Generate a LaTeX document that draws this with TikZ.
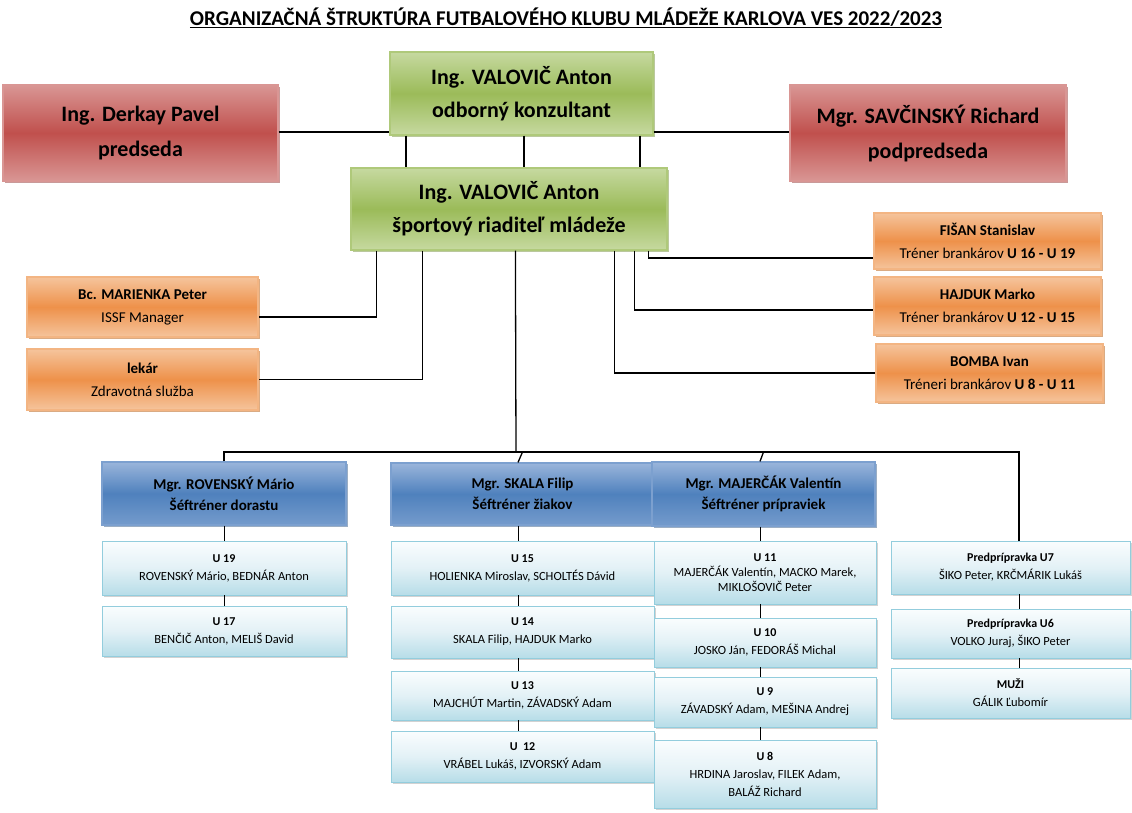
\documentclass[tikz,border=0pt]{standalone}
\usepackage{fontspec}
\setmainfont{Carlito}
\usetikzlibrary{shadows}
\definecolor{gT}{HTML}{C6D9A0}\definecolor{gM}{HTML}{9BBB59}\definecolor{gB}{HTML}{76923C}
\definecolor{rT}{HTML}{D99694}\definecolor{rM}{HTML}{C0504D}\definecolor{rB}{HTML}{943634}
\definecolor{oT}{HTML}{F5C49C}\definecolor{oM}{HTML}{EE914A}\definecolor{oB}{HTML}{B65708}
\definecolor{bT}{HTML}{9AB5DB}\definecolor{bM}{HTML}{4F81BD}\definecolor{bB}{HTML}{385D8A}
\definecolor{lT}{HTML}{FAFDFE}\definecolor{lM}{HTML}{E3F1F6}\definecolor{lL}{HTML}{B7DDE8}\definecolor{lB}{HTML}{93CDDD}
\newcommand{\bx}[7]{\node[#2,minimum width={(#5-#3)*1pt},minimum height={(#6-#4)*1pt}] (#1) at ({(#3+#5)/2},{(#4+#6)/2}) {#7};}
\begin{document}
\begin{tikzpicture}[x=1pt,y=-1pt,
 base/.style={draw,inner sep=1pt,align=center,line width=1.2pt},
 green/.style={base,draw=gM!80!white,top color=gT,bottom color=gT,middle color=gM,drop shadow={shadow xshift=2pt,shadow yshift=-2pt,fill=gB},font=\fontsize{22}{33}\selectfont\bfseries},
 red/.style={base,draw=rT,top color=rT,bottom color=rT,middle color=rM,drop shadow={shadow xshift=2pt,shadow yshift=-2pt,fill=rB},font=\fontsize{22}{35}\selectfont\bfseries},
 orange/.style={base,draw=oT!70!oM,top color=oT,bottom color=oT,middle color=oM,drop shadow={shadow xshift=2pt,shadow yshift=-2pt,fill=oB},font=\fontsize{15}{23}\selectfont},
 blue/.style={base,draw=bT!60!bM,top color=bT,bottom color=bT!50!bM,middle color=bM,drop shadow={shadow xshift=2pt,shadow yshift=-2pt,fill=bB},font=\fontsize{15}{21}\selectfont\bfseries},
 light/.style={base,line width=0.8pt,draw=lB,top color=lT,bottom color=lL,middle color=lM,drop shadow={shadow xshift=1.5pt,shadow yshift=-1.5pt,fill=gray!70},font=\fontsize{12.5}{18}\selectfont},
 ln/.style={line width=1.3pt,black}]
\useasboundingbox (0,0) rectangle (1132,812);
\node[font=\fontsize{21}{24}\selectfont\bfseries] (title) at (566,18) {\underline{ORGANIZAČNÁ ŠTRUKTÚRA FUTBALOVÉHO KLUBU MLÁDEŽE KARLOVA VES 2022/2023}};
% top
\bx{g1}{green}{390}{52}{653}{135}{Ing. VALOVIČ Anton\\odborný konzultant}
\bx{rl}{red}{3}{85}{278}{181}{Ing. Derkay Pavel\\predseda}
\bx{rr}{red}{790}{85}{1066}{181}{Mgr. SAVČINSKÝ Richard\\podpredseda}
\bx{g2}{green}{351}{168}{667}{250}{Ing. VALOVIČ Anton\\športový riaditeľ mládeže}
\draw[ln] (rl.east |- 0,132) -- (g1.west |- 0,132);
\draw[ln] (g1.east |- 0,132) -- (rr.west |- 0,132);
\foreach \xx in {406,524,640} \draw[ln] (g1.south -| \xx,0) -- (g2.north -| \xx,0);
% orange
\bx{o1}{orange}{27}{277}{258}{337}{\textbf{Bc. MARIENKA Peter}\\ISSF Manager}
\bx{o2}{orange}{27}{349}{258}{410}{\textbf{lekár}\\Zdravotná služba}
\bx{r1}{orange}{874}{213}{1101}{269}{\textbf{FIŠAN Stanislav}\\Tréner brankárov \textbf{U 16 - U 19}}
\bx{r2}{orange}{874}{277}{1101}{335}{\textbf{HAJDUK Marko}\\Tréner brankárov \textbf{U 12 - U 15}}
\bx{r3}{orange}{876}{344}{1103}{402}{\textbf{BOMBA Ivan}\\Tréneri brankárov \textbf{U 8 - U 11}}
\draw[ln] ([xshift=26pt]g2.south west) |- ([yshift=-10pt]o1.east);
\draw[ln] ([xshift=72pt]g2.south west) |- (o2.east);
\draw[ln] ([xshift=-19pt]g2.south east) |- ([yshift=-17pt]r1.west);
\draw[ln] ([xshift=-33pt]g2.south east) |- ([yshift=-4pt]r2.west);
\draw[ln] ([xshift=-53pt]g2.south east) |- (r3.west);
% blue
\bx{b1}{blue}{102}{462}{346}{525}{Mgr. ROVENSKÝ Mário\\Šéftréner dorastu}
\bx{b2}{blue}{391}{463}{654}{525}{Mgr. SKALA Filip\\Šéftréner žiakov}
\bx{b3}{blue}{652}{462}{875}{526}{Mgr. MAJERČÁK Valentín\\Šéftréner prípraviek}
% light
\bx{a1}{light}{102}{541}{346}{595}{\textbf{\large U 19}\\ROVENSKÝ Mário, BEDNÁR Anton}
\bx{a2}{light}{102}{606}{346}{656}{\textbf{\large U 17}\\BENČIČ Anton, MELIŠ David}
\bx{c1}{light}{391}{541}{654}{595}{\textbf{\large U 15}\\HOLIENKA Miroslav, SCHOLTÉS Dávid}
\bx{c2}{light}{391}{606}{654}{658}{\textbf{\large U 14}\\SKALA Filip, HAJDUK Marko}
\bx{c3}{light}{391}{671}{654}{720}{\textbf{\large U 13}\\MAJCHÚT Martin, ZÁVADSKÝ Adam}
\bx{c4}{light}{391}{731}{654}{782}{\textbf{\large U\ \ 12}\\VRÁBEL Lukáš, IZVORSKÝ Adam}
\bx{d1}{light}{654}{541}{876}{604}{\textbf{\large U 11}\\[-3pt]MAJERČÁK Valentín, MACKO Marek,\\[-3pt]MIKLOŠOVIČ Peter}
\bx{d2}{light}{654}{618}{876}{667}{\textbf{\large U 10}\\JOSKO Ján, FEDORÁŠ Michal}
\bx{d3}{light}{654}{677}{876}{727}{\textbf{\large U 9}\\ZÁVADSKÝ Adam, MEŠINA Andrej}
\bx{d4}{light}{654}{740}{876}{808}{\textbf{\large U 8}\\HRDINA Jaroslav, FILEK Adam,\\BALÁŽ Richard}
\bx{e1}{light}{891}{541}{1130}{594}{\textbf{\large Predprípravka U7}\\ŠIKO Peter, KRČMÁRIK Lukáš}
\bx{e2}{light}{891}{609}{1130}{658}{\textbf{\large Predprípravka U6}\\VOLKO Juraj, ŠIKO Peter}
\bx{e3}{light}{891}{668}{1130}{718}{\textbf{\large MUŽI}\\GÁLIK Ľubomír}
% main trunk
\coordinate (bar) at (516,452);
\draw[ln] ([xshift=165pt]g2.south west) -- (bar);
\draw[ln] (b1.north) |- (bar) -| (e1.north -| 1019,0);
\draw[ln] (b2.north -| 518,0) -- (b2.north |- bar);
\draw[ln] (b3.north -| 760,0) -- (b3.north |- bar);
\draw[ln,line width=1pt] (b1.south) -- (a1.north) (a1.south) -- (a2.north);
\draw[ln,line width=1pt] (b2.south -| 518,0) -- (c1.north -| 518,0) (c1.south -| 518,0) -- (c2.north -| 518,0) (c2.south -| 518,0) -- (c3.north -| 518,0) (c3.south -| 518,0) -- (c4.north -| 518,0);
\draw[ln,line width=1pt] (b3.south -| 760,0) -- (d1.north -| 760,0) (d1.south -| 760,0) -- (d2.north -| 760,0) (d2.south -| 760,0) -- (d3.north -| 760,0) (d3.south -| 760,0) -- (d4.north -| 760,0);
\draw[ln,line width=1pt] (e1.south -| 1019,0) -- (e2.north -| 1019,0) (e2.south -| 1019,0) -- (e3.north -| 1019,0);
\end{tikzpicture}
\end{document}
